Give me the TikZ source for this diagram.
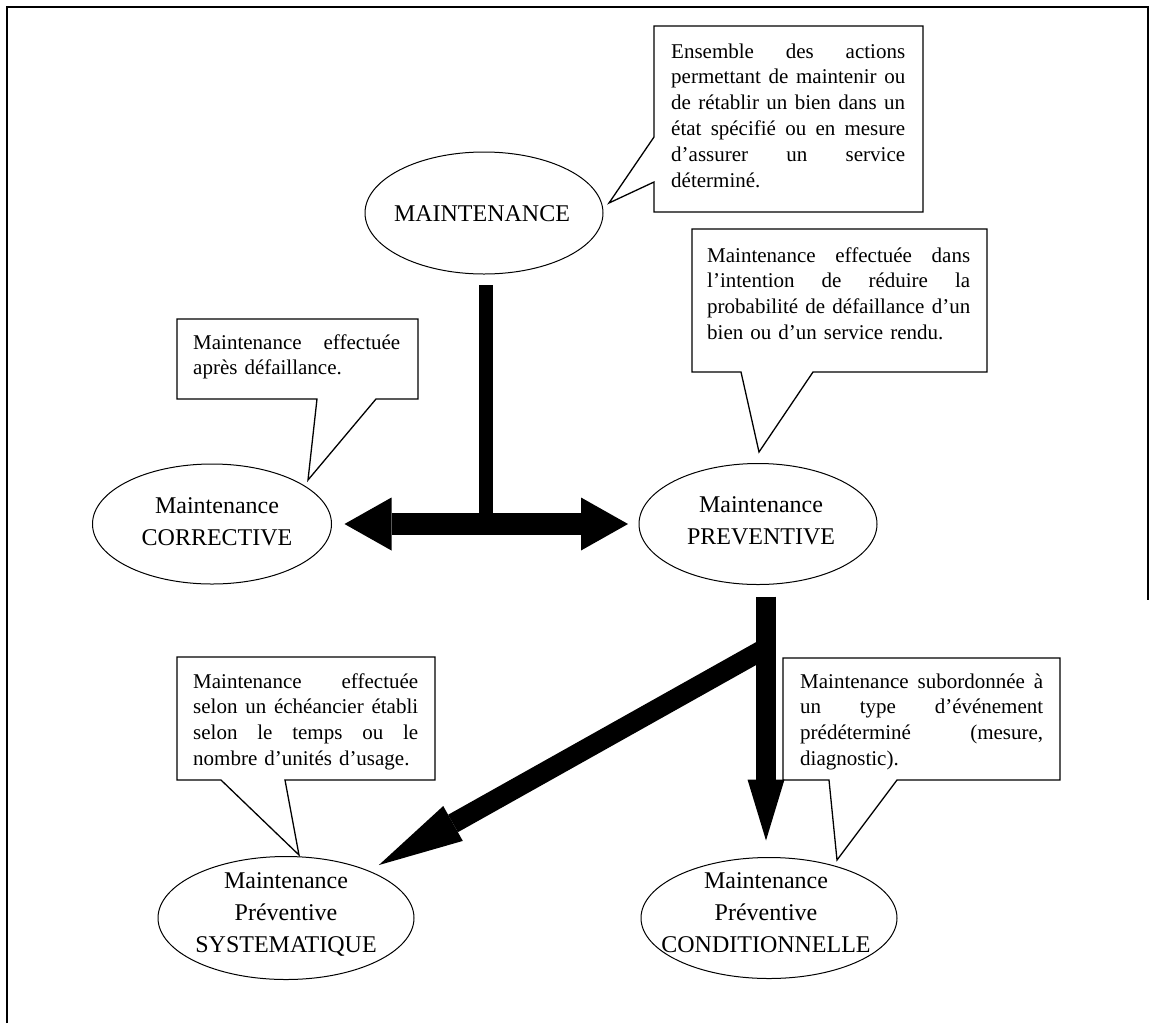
\documentclass[tikz,border=0pt]{standalone}
\usepackage{fontspec}
\setmainfont{Liberation Serif}
\usetikzlibrary{arrows.meta,shapes.geometric}
\newcommand{\jl}[2]{\leavevmode\hbox to #1{\spaceskip=0.25em plus 1fil\relax #2}}
\begin{document}
\begin{tikzpicture}[x=1pt,y=-1pt,
  ell/.style={draw, line width=1pt, ellipse, inner sep=0pt, outer sep=0pt},
  etxt/.style={inner sep=0pt, text width=260pt, align=center, anchor=base,
               font=\fontsize{24}{32}\selectfont},
  btxt/.style={inner sep=0pt, align=left, anchor=base west,
               font=\fontsize{21}{25.8}\selectfont},
  callout/.style={draw, line width=1.3pt, line join=miter},
  frame/.style={line width=2.5pt},
  blockarrow/.style={draw, line width=#1},
]
\useasboundingbox (0,0) rectangle (1156,1023);
\draw[frame] (7,1023) -- (7,7) -- (1148,7) -- (1148,600);

% ellipses
\node[ell, minimum width=238pt, minimum height=122pt] (main) at (484,213) {};
\node[ell, minimum width=239pt, minimum height=120pt] (corr) at (212,524) {};
\node[ell, minimum width=238pt, minimum height=121pt] (prev) at (758,524) {};
\node[ell, minimum width=256pt, minimum height=123pt] (sys)  at (286,918) {};
\node[ell, minimum width=256pt, minimum height=121pt] (cond) at (769,918) {};

\node[etxt] (maintxt) at (482,221) {MAINTENANCE};
\node[etxt] (corrtxt) at (217,513) {Maintenance\\CORRECTIVE};
\node[etxt] (prevtxt) at (761,512) {Maintenance\\PREVENTIVE};
\node[etxt] (systxt)  at (286,888) {Maintenance\\Préventive\\SYSTEMATIQUE};
\node[etxt] (condtxt) at (766,888) {Maintenance\\Préventive\\CONDITIONNELLE};

% callouts
\coordinate (c1tip) at (609,203);
\coordinate (c2tip) at (308,480);
\coordinate (c3tip) at (759,452);
\coordinate (c4tip) at (299,855);
\coordinate (c5tip) at (837,860);
\draw[callout] (654,26) -- (923,26) -- (923,212) -- (654,212) -- (654,182) -- (c1tip) -- (654,137) -- cycle;
\draw[callout] (177,319) -- (418,319) -- (418,399) -- (376,399) -- (c2tip) -- (317,399) -- (177,399) -- cycle;
\draw[callout] (692,229) -- (987,229) -- (987,372) -- (813,372) -- (c3tip) -- (741,372) -- (692,372) -- cycle;
\draw[callout] (177,657) -- (435,657) -- (435,780) -- (285,780) -- (c4tip) -- (221,780) -- (177,780) -- cycle;
\draw[callout] (783,658) -- (1060,658) -- (1060,780) -- (897,780) -- (c5tip) -- (829,780) -- (783,780) -- cycle;

\node[btxt, text width=234pt] (t1) at (671,58) {\jl{234pt}{Ensemble des actions}\\
\jl{234pt}{permettant de maintenir ou}\\
\jl{234pt}{de rétablir un bien dans un}\\
\jl{234pt}{état spécifié ou en mesure}\\
\jl{234pt}{d’assurer un service}\\
déterminé.};
\node[btxt, text width=207pt] (t2) at (193,349) {\jl{207pt}{Maintenance effectuée}\\
après défaillance.};
\node[btxt, text width=263pt] (t3) at (707,262) {\jl{263pt}{Maintenance effectuée dans}\\
\jl{263pt}{l’intention de réduire la}\\
\jl{263pt}{probabilité de défaillance d’un}\\
bien ou d’un service rendu.};
\node[btxt, text width=225pt] (t4) at (193,688) {\jl{225pt}{Maintenance effectuée}\\
\jl{225pt}{selon un échéancier établi}\\
\jl{225pt}{selon le temps ou le}\\
nombre d’unités d’usage.};
\node[btxt, text width=243pt] (t5) at (800,688) {\jl{243pt}{Maintenance subordonnée à}\\
\jl{243pt}{un type d’événement}\\
\jl{243pt}{prédéterminé (mesure,}\\
diagnostic).};

% arrows
\coordinate (vtop) at ([xshift=2pt,yshift=-11pt]main.south);
\coordinate (hl) at ([xshift=13pt]corr.east);
\coordinate (hr) at ([xshift=-11pt]prev.west);
\coordinate (vbot) at (vtop |- hl);
\coordinate (dtop) at ([xshift=8pt,yshift=-12pt]prev.south);
\coordinate (dtipy) at ([yshift=17pt]cond.north);
\coordinate (dtip) at (dtop |- dtipy);
\coordinate (dj) at ([yshift=-51.5pt]dtop);
\coordinate (systip) at ([shift={(11,-5.7)}]sys.30);

\draw[blockarrow=14pt] (vtop) -- (vbot);
\draw[blockarrow=22pt, {Triangle[length=47pt,width=53pt,line width=0pt]}-{Triangle[length=47pt,width=53pt,line width=0pt]}] (hl) -- (hr);
\draw[blockarrow=20pt, -{Triangle[length=61pt,width=37pt,line width=0pt]}] (dtop) -- (dtip);
\draw[blockarrow=20pt, -{Triangle[length=85pt,width=40pt,line width=0pt]}] (dj) -- (systip);
\end{tikzpicture}
\end{document}
